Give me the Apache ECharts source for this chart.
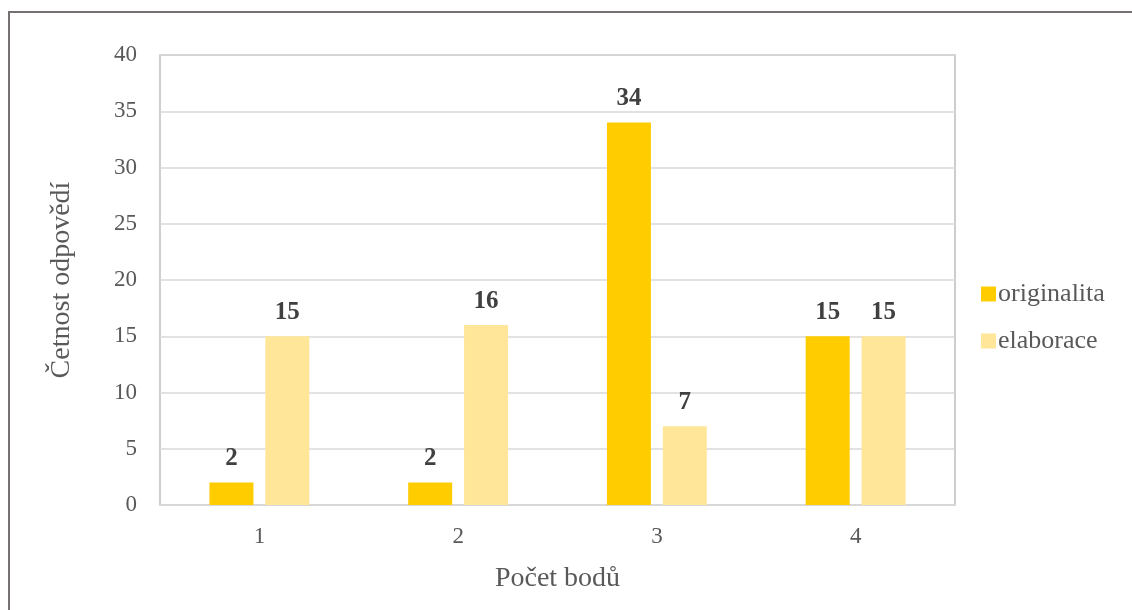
<!DOCTYPE html>
<html>
<head>
<meta charset="utf-8">
<script src="https://cdn.jsdelivr.net/npm/echarts@6/dist/echarts.min.js"></script>
<style>
  html, body { margin: 0; padding: 0; background: #fff; }
  #frame { position: absolute; left: 8px; top: 11px; width: 1130px; height: 610px; border: 2px solid #767171; box-sizing: border-box; border-right: none; border-bottom: none; }
  #chart { position: absolute; left: 0; top: 0; width: 1132px; height: 610px; }
</style>
</head>
<body>
<div id="frame"></div>
<div id="chart"></div>
<script>
const categories = ['1', '2', '3', '4'];
const originalita = [2, 2, 34, 15];
const elaborace = [15, 16, 7, 15];
const yTicks = [0, 5, 10, 15, 20, 25, 30, 35, 40];

const serif = '"Liberation Serif", "DejaVu Serif", serif';
const chart = echarts.init(document.getElementById('chart'), null, { renderer: 'canvas' });

const labelStyle = {
  show: true,
  position: 'top',
  distance: 11,
  fontFamily: serif,
  fontWeight: 'bold',
  fontSize: 25,
  color: '#404040'
};

chart.setOption({
  animation: false,
  backgroundColor: 'transparent',
  grid: { left: 160, right: 177, top: 55, bottom: 105, show: true, borderColor: '#bfbfbf', borderWidth: 1.5, backgroundColor: 'transparent' },
  legend: {
    orient: 'vertical',
    left: 976,
    top: 276,
    itemWidth: 15,
    itemHeight: 15,
    itemGap: 21,
    icon: 'rect',
    textStyle: { fontFamily: serif, fontSize: 26, color: '#595959', padding: [0, 0, 0, -3] },
    data: ['originalita', 'elaborace']
  },
  xAxis: {
    type: 'category',
    data: categories,
    name: 'Počet bodů',
    nameLocation: 'middle',
    nameGap: 60,
    nameTextStyle: { fontFamily: serif, fontSize: 28, color: '#595959' },
    axisLine: { show: true, lineStyle: { color: '#d9d9d9', width: 1.5 } },
    axisTick: { show: false },
    axisLabel: { fontFamily: serif, fontSize: 23, color: '#595959', margin: 20 }
  },
  yAxis: {
    type: 'value',
    min: yTicks[0],
    max: yTicks[yTicks.length - 1],
    interval: 5,
    name: 'Četnost odpovědí',
    nameLocation: 'middle',
    nameGap: 84,
    nameTextStyle: { fontFamily: serif, fontSize: 28, color: '#595959' },
    axisLine: { show: false },
    axisTick: { show: false },
    axisLabel: { fontFamily: serif, fontSize: 23, color: '#595959', margin: 23 },
    splitLine: { lineStyle: { color: '#d9d9d9', width: 1.5 } }
  },
  series: [
    {
      name: 'originalita',
      type: 'bar',
      data: originalita,
      barWidth: 44,
      barGap: '27%',
      itemStyle: { color: '#ffcc00' },
      label: labelStyle
    },
    {
      name: 'elaborace',
      type: 'bar',
      data: elaborace,
      barWidth: 44,
      itemStyle: { color: '#ffe699' },
      label: labelStyle
    }
  ]
});
</script>
</body>
</html>
